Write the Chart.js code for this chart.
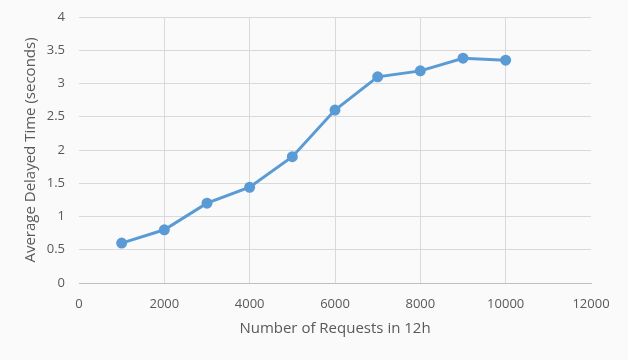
<!DOCTYPE html>
<html><head><meta charset="utf-8">
<script src="https://cdn.jsdelivr.net/npm/chart.js@4/dist/chart.umd.min.js"></script>
<style>html,body{margin:0;padding:0;background:#fafafa}#w{width:628px;height:360px}</style>
</head><body><div id="w"><canvas id="c"></canvas></div>
<script>
const requests = [1000, 2000, 3000, 4000, 5000, 6000, 7000, 8000, 9000, 10000];
const delay = [0.60, 0.80, 1.20, 1.44, 1.90, 2.60, 3.10, 3.19, 3.38, 3.35];
const xTitle = 'Number of Requests in 12h';
const yTitle = 'Average Delayed Time (seconds)';

const font = "'Open Sans', 'DejaVu Sans', sans-serif";
new Chart(document.getElementById('c'), {
  type: 'line',
  data: { datasets: [{
    data: requests.map((x, i) => ({x: x, y: delay[i]})),
    borderColor: '#5b9bd5', backgroundColor: '#5b9bd5',
    borderWidth: 3, pointRadius: 4, pointHoverRadius: 4, tension: 0
  }]},
  options: {
    responsive: true, maintainAspectRatio: false, animation: false,
    layout: { padding: { left: 22, right: 37, top: 17, bottom: 22 } },
    plugins: { legend: { display: false }, tooltip: { enabled: false } },
    scales: {
      x: {
        type: 'linear', min: 0, max: 12000,
        ticks: { stepSize: 2000, color: '#595959', font: { family: font, size: 13 }, padding: 13, maxRotation: 0,
                 callback: v => String(v) },
        grid: { color: ctx => (ctx.tick && (ctx.tick.value === 0 || ctx.tick.value === 12000)) ? 'rgba(0,0,0,0)' : '#d9d9d9', drawTicks: false },
        border: { color: '#bfbfbf', width: 1 },
        title: { display: true, text: xTitle, color: '#595959', font: { family: font, size: 15 }, padding: { top: 4, bottom: 0 } },
        afterFit: s => { s.height = 55; s.paddingLeft = 0; s.paddingRight = 0; }
      },
      y: {
        min: 0, max: 4,
        ticks: { stepSize: 0.5, color: '#595959', font: { family: font, size: 13 }, padding: 14,
                 callback: v => String(v) },
        grid: { color: '#d9d9d9', drawTicks: false },
        border: { display: false },
        title: { display: true, text: yTitle, color: '#595959', font: { family: font, size: 15 }, padding: { top: 0, bottom: 4 } },
        afterFit: s => { s.width = 57; s.paddingTop = 0; s.paddingBottom = 0; }
      }
    }
  }
});
</script></body></html>
